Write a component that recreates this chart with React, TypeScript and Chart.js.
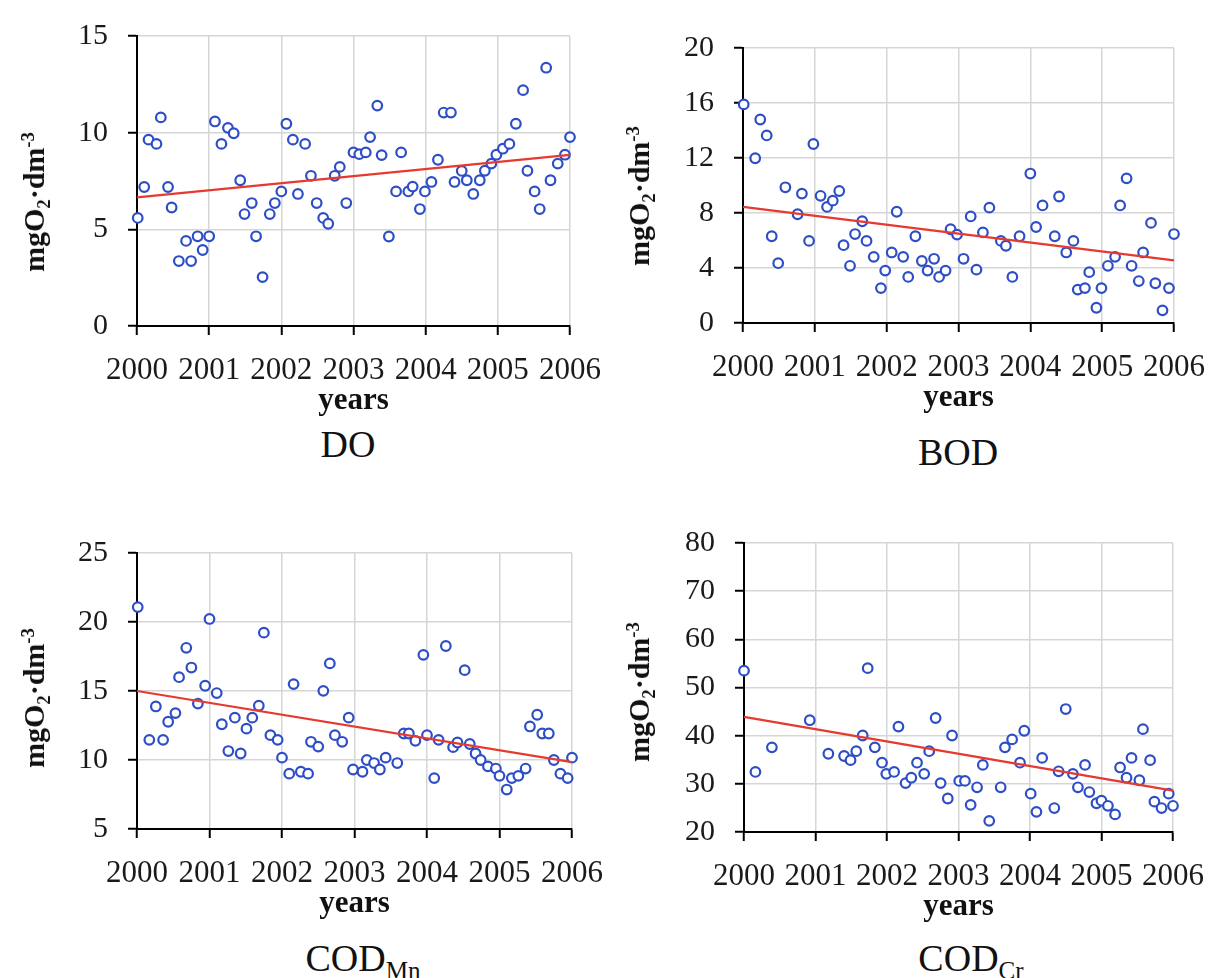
import React, { useEffect, useRef } from 'react';
import { Chart, registerables } from 'chart.js';

Chart.register(...registerables);

// ---------- data ----------
const yearTicks = [2000, 2001, 2002, 2003, 2004, 2005, 2006];
const yearLabels = ['2000', '2001', '2002', '2003', '2004', '2005', '2006'];

// DO
const doX = [2000.01, 2000.10, 2000.16, 2000.27, 2000.33, 2000.43, 2000.48, 2000.58, 2000.68, 2000.75, 2000.84, 2000.91,
  2001.00, 2001.08, 2001.17, 2001.26, 2001.34, 2001.43, 2001.49, 2001.59, 2001.65, 2001.74, 2001.84, 2001.91,
  2002.00, 2002.07, 2002.16, 2002.23, 2002.33, 2002.41, 2002.49, 2002.58, 2002.65, 2002.74, 2002.81, 2002.90,
  2003.00, 2003.08, 2003.17, 2003.23, 2003.33, 2003.39, 2003.49, 2003.59, 2003.66, 2003.76, 2003.82, 2003.92,
  2003.99, 2004.08, 2004.17, 2004.25, 2004.35, 2004.40, 2004.50, 2004.57, 2004.66, 2004.75, 2004.82, 2004.91,
  2004.98, 2005.07, 2005.16, 2005.25, 2005.35, 2005.41, 2005.51, 2005.58, 2005.67, 2005.73, 2005.83, 2005.93, 2006.00];
const doY = [5.59, 7.19, 9.64, 9.42, 10.79, 7.19, 6.13, 3.36, 4.40, 3.36, 4.64, 3.93,
  4.64, 10.58, 9.42, 10.25, 9.97, 7.54, 5.79, 6.36, 4.64, 2.53, 5.79, 6.36,
  6.96, 10.46, 9.64, 6.83, 9.42, 7.77, 6.36, 5.59, 5.29, 7.77, 8.23, 6.36,
  8.98, 8.89, 8.98, 9.77, 11.40, 8.84, 4.63, 6.96, 8.98, 6.96, 7.21, 6.05,
  6.96, 7.45, 8.60, 11.04, 11.04, 7.45, 8.02, 7.54, 6.83, 7.54, 8.03, 8.40,
  8.86, 9.17, 9.42, 10.46, 12.20, 8.03, 6.96, 6.05, 13.36, 7.54, 8.40, 8.86, 9.77];
const doTicks = [0, 5, 10, 15];
const doTrend = [6.65, 8.85];

// BOD
const bodX = [2000.01, 2000.17, 2000.24, 2000.33, 2000.40, 2000.49, 2000.59, 2000.76, 2000.82, 2000.92, 2000.98,
  2001.08, 2001.17, 2001.25, 2001.34, 2001.40, 2001.49, 2001.56, 2001.66, 2001.72, 2001.82, 2001.92, 2001.98,
  2002.07, 2002.14, 2002.23, 2002.30, 2002.40, 2002.49, 2002.57, 2002.66, 2002.73, 2002.82, 2002.89, 2002.98,
  2003.07, 2003.17, 2003.25, 2003.34, 2003.43, 2003.59, 2003.66, 2003.75, 2003.85,
  2004.00, 2004.08, 2004.17, 2004.34, 2004.40, 2004.50, 2004.60, 2004.66, 2004.76, 2004.82, 2004.92, 2004.99,
  2005.08, 2005.18, 2005.25, 2005.34, 2005.41, 2005.51, 2005.57, 2005.68, 2005.74, 2005.84, 2005.93, 2006.00];
const bodY = [15.9, 11.98, 14.8, 13.64, 6.31, 4.35, 9.87, 7.91, 9.41, 5.97, 13.02,
  9.25, 8.44, 8.90, 9.60, 5.66, 4.16, 6.47, 7.40, 5.97, 4.81, 2.54, 3.81,
  5.13, 8.09, 4.81, 3.35, 6.31, 4.51, 3.81, 4.67, 3.35, 3.81, 6.82, 6.43,
  4.67, 7.75, 3.88, 6.59, 8.39, 5.97, 5.62, 3.35, 6.31,
  10.87, 6.98, 8.55, 6.31, 9.20, 5.13, 5.97, 2.43, 2.54, 3.70, 1.11, 2.54,
  4.16, 4.81, 8.55, 10.52, 4.16, 3.05, 5.13, 7.28, 2.89, 0.92, 2.54, 6.47];
const bodTicks = [0, 4, 8, 12, 16, 20];
const bodTrend = [8.45, 4.55];

// COD Mn
const codMnX = [2000.01, 2000.17, 2000.26, 2000.36, 2000.43, 2000.53, 2000.58, 2000.68, 2000.75, 2000.84, 2000.94,
  2001.00, 2001.10, 2001.17, 2001.26, 2001.35, 2001.43, 2001.51, 2001.59, 2001.68, 2001.75, 2001.84, 2001.94,
  2002.00, 2002.10, 2002.16, 2002.26, 2002.36, 2002.40, 2002.50, 2002.57, 2002.66, 2002.73, 2002.83, 2002.92, 2002.98,
  2003.11, 2003.17, 2003.27, 2003.35, 2003.43, 2003.59, 2003.68, 2003.75, 2003.84, 2003.95,
  2004.00, 2004.10, 2004.16, 2004.26, 2004.36, 2004.42, 2004.52, 2004.59, 2004.67, 2004.74, 2004.84, 2004.95,
  2005.00, 2005.10, 2005.17, 2005.26, 2005.36, 2005.42, 2005.52, 2005.59, 2005.68, 2005.75, 2005.84, 2005.94, 2006.00];
const codMnY = [21.08, 11.46, 13.88, 11.46, 12.77, 13.40, 16.00, 18.13, 16.70, 14.09, 15.38,
  20.22, 14.85, 12.59, 10.65, 13.07, 10.47, 12.27, 13.07, 13.93, 19.23, 11.80, 11.46,
  10.17, 9.01, 15.50, 9.15, 9.01, 11.32, 10.97, 15.01, 17.00, 11.80, 11.32, 13.07, 9.31,
  9.15, 10.00, 9.78, 9.31, 10.17, 9.78, 11.92, 11.92, 11.39, 17.62,
  11.80, 8.69, 11.46, 18.26, 10.93, 11.27, 16.51, 11.16, 10.47, 10.00, 9.54, 9.38,
  8.85, 7.86, 8.69, 8.85, 9.38, 12.43, 13.28, 11.92, 11.92, 10.00, 9.01, 8.69, 10.17];
const codMnTicks = [5, 10, 15, 20, 25];
const codMnTrend = [15.0, 9.85];

// COD Cr
const codCrX = [2000.00, 2000.16, 2000.39, 2000.92,
  2001.18, 2001.40, 2001.49, 2001.57, 2001.66, 2001.73, 2001.83, 2001.93, 2001.99,
  2002.10, 2002.16, 2002.26, 2002.34, 2002.42, 2002.52, 2002.59, 2002.68, 2002.75, 2002.85, 2002.91,
  2003.01, 2003.09, 2003.17, 2003.26, 2003.34, 2003.43, 2003.59, 2003.65, 2003.75, 2003.86, 2003.92,
  2004.01, 2004.09, 2004.17, 2004.34, 2004.40, 2004.50, 2004.60, 2004.67, 2004.77, 2004.83, 2004.93,
  2005.00, 2005.09, 2005.19, 2005.26, 2005.35, 2005.42, 2005.53, 2005.58, 2005.68, 2005.74, 2005.84, 2005.94, 2006.00];
const codCrY = [53.5, 32.47, 37.57, 43.21,
  36.25, 35.78, 34.92, 36.78, 40.03, 54.02, 37.57, 34.39, 32.07,
  32.47, 41.88, 30.15, 31.27, 34.39, 32.07, 36.78, 43.67, 30.15, 26.96, 40.03,
  30.61, 30.61, 25.64, 29.28, 33.93, 22.32, 29.28, 37.57, 39.23, 34.39, 41.02,
  27.96, 24.18, 35.38, 24.97, 32.60, 45.53, 32.07, 29.28, 33.93, 28.29, 25.97,
  26.50, 25.44, 23.65, 33.40, 31.27, 35.38, 30.74, 41.35, 34.92, 26.30, 24.97, 27.96, 25.44];
const codCrTicks = [20, 30, 40, 50, 60, 70, 80];
const codCrTrend = [43.9, 28.6];

// ---------- styling ----------
const SERIF = "'Liberation Serif', 'Times New Roman', serif";
const POINT_COLOR = '#2d4ec6';
const TREND_COLOR = '#e6392f';
const GRID_COLOR = '#d6d6d6';

const YW = 110; // y axis box width
const PT = 25;  // top padding
const PR = 45;  // right padding
const XH = 95;  // x axis box height

type PanelProps = {
  xs: number[];
  ys: number[];
  ticks: number[];
  trend: number[];
  left: number;
  top: number;
  w: number;
  h: number;
};

function Panel({ xs, ys, ticks, trend, left, top, w, h }: PanelProps) {
  const ref = useRef<HTMLCanvasElement | null>(null);
  useEffect(() => {
    if (!ref.current) return;
    const chart = new Chart(ref.current, {
      type: 'scatter',
      data: {
        datasets: [
          {
            type: 'line',
            data: [
              { x: yearTicks[0], y: trend[0] },
              { x: yearTicks[yearTicks.length - 1], y: trend[1] },
            ],
            borderColor: TREND_COLOR,
            borderWidth: 2.2,
            pointRadius: 0,
            fill: false,
            order: 0,
            clip: false,
          } as any,
          {
            data: xs.map((x, i) => ({ x, y: ys[i] })),
            pointRadius: 4.8,
            pointBorderWidth: 2.2,
            pointBorderColor: POINT_COLOR,
            pointBackgroundColor: '#ffffff',
            showLine: false,
            order: 1,
            clip: false,
          } as any,
        ],
      },
      options: {
        animation: false,
        responsive: false,
        maintainAspectRatio: false,
        devicePixelRatio: 1,
        events: [],
        layout: { padding: { left: 0, top: PT, right: PR, bottom: 0 } },
        plugins: { legend: { display: false }, tooltip: { enabled: false }, title: { display: false } },
        scales: {
          x: {
            type: 'linear',
            min: yearTicks[0],
            max: yearTicks[yearTicks.length - 1],
            afterBuildTicks: (axis: any) => {
              axis.ticks = yearTicks.map((v) => ({ value: v }));
            },
            ticks: {
              callback: (_v: any, i: number) => yearLabels[i],
              font: { family: SERIF, size: 31 },
              color: '#1a1a1a',
              padding: 17,
              maxRotation: 0,
              autoSkip: false,
            },
            grid: { color: GRID_COLOR, lineWidth: 1.5, tickColor: '#000', tickLength: 9, tickWidth: 2 },
            border: { color: '#000', width: 2 },
            title: {
              display: true,
              text: 'years',
              font: { family: SERIF, size: 31, weight: 'bold' },
              color: '#111',
              padding: { top: 0, bottom: 1 },
            },
            afterFit: (s: any) => {
              s.height = XH;
            },
          },
          y: {
            type: 'linear',
            min: ticks[0],
            max: ticks[ticks.length - 1],
            afterBuildTicks: (axis: any) => {
              axis.ticks = ticks.map((v) => ({ value: v }));
            },
            ticks: {
              callback: (v: any) => String(v),
              font: { family: SERIF, size: 30 },
              color: '#1a1a1a',
              padding: 20,
            },
            grid: { color: GRID_COLOR, lineWidth: 1.5, tickColor: '#000', tickLength: 9, tickWidth: 2 },
            border: { color: '#000', width: 2 },
            afterFit: (s: any) => {
              s.width = YW;
            },
          },
        },
      } as any,
    });
    return () => chart.destroy();
  }, []);
  const cw = YW + w + PR;
  const ch = PT + h + XH;
  return (
    <canvas
      ref={ref}
      width={cw}
      height={ch}
      style={{ position: 'absolute', left: left - YW, top: top - PT, width: cw, height: ch }}
    />
  );
}

function YTitle({ cx, cy }: { cx: number; cy: number }) {
  return (
    <div
      style={{
        position: 'absolute',
        left: cx,
        top: cy,
        transform: 'translate(-50%, -50%) rotate(-90deg)',
        whiteSpace: 'nowrap',
        fontFamily: SERIF,
        fontWeight: 'bold',
        fontSize: 30,
        lineHeight: '34px',
        color: '#111',
      }}
    >
      mgO<span style={{ fontSize: '0.62em', position: 'relative', top: '0.3em' }}>2</span>·dm
      <span style={{ fontSize: '0.62em', position: 'relative', top: '-0.55em' }}>-3</span>
    </div>
  );
}

function Caption({ cx, cy, main, sub }: { cx: number; cy: number; main: string; sub?: string }) {
  return (
    <div
      style={{
        position: 'absolute',
        left: cx,
        top: cy,
        transform: 'translate(-50%, -50%)',
        whiteSpace: 'nowrap',
        fontFamily: SERIF,
        fontSize: 38,
        lineHeight: '44px',
        color: '#111',
      }}
    >
      {main}
      {sub ? <span style={{ fontSize: '0.66em', position: 'relative', top: '0.3em' }}>{sub}</span> : null}
    </div>
  );
}

export default function App() {
  return (
    <div style={{ position: 'absolute', left: 0, top: 0, width: 1216, height: 978, background: '#fff', overflow: 'hidden' }}>
      <Panel xs={doX} ys={doY} ticks={doTicks} trend={doTrend} left={137} top={23} w={436} h={303} />
      <Panel xs={bodX} ys={bodY} ticks={bodTicks} trend={bodTrend} left={743} top={35} w={434} h={288} />
      <Panel xs={codMnX} ys={codMnY} ticks={codMnTicks} trend={codMnTrend} left={137} top={540} w={438} h={289} />
      <Panel xs={codCrX} ys={codCrY} ticks={codCrTicks} trend={codCrTrend} left={744} top={530} w={432} h={302} />
      <YTitle cx={36} cy={202} />
      <YTitle cx={641} cy={196} />
      <YTitle cx={36} cy={698} />
      <YTitle cx={641} cy={692} />
      <Caption cx={348} cy={444} main="DO" />
      <Caption cx={958} cy={452} main="BOD" />
      <Caption cx={363} cy={960} main="COD" sub="Mn" />
      <Caption cx={971} cy={960} main="COD" sub="Cr" />
    </div>
  );
}
